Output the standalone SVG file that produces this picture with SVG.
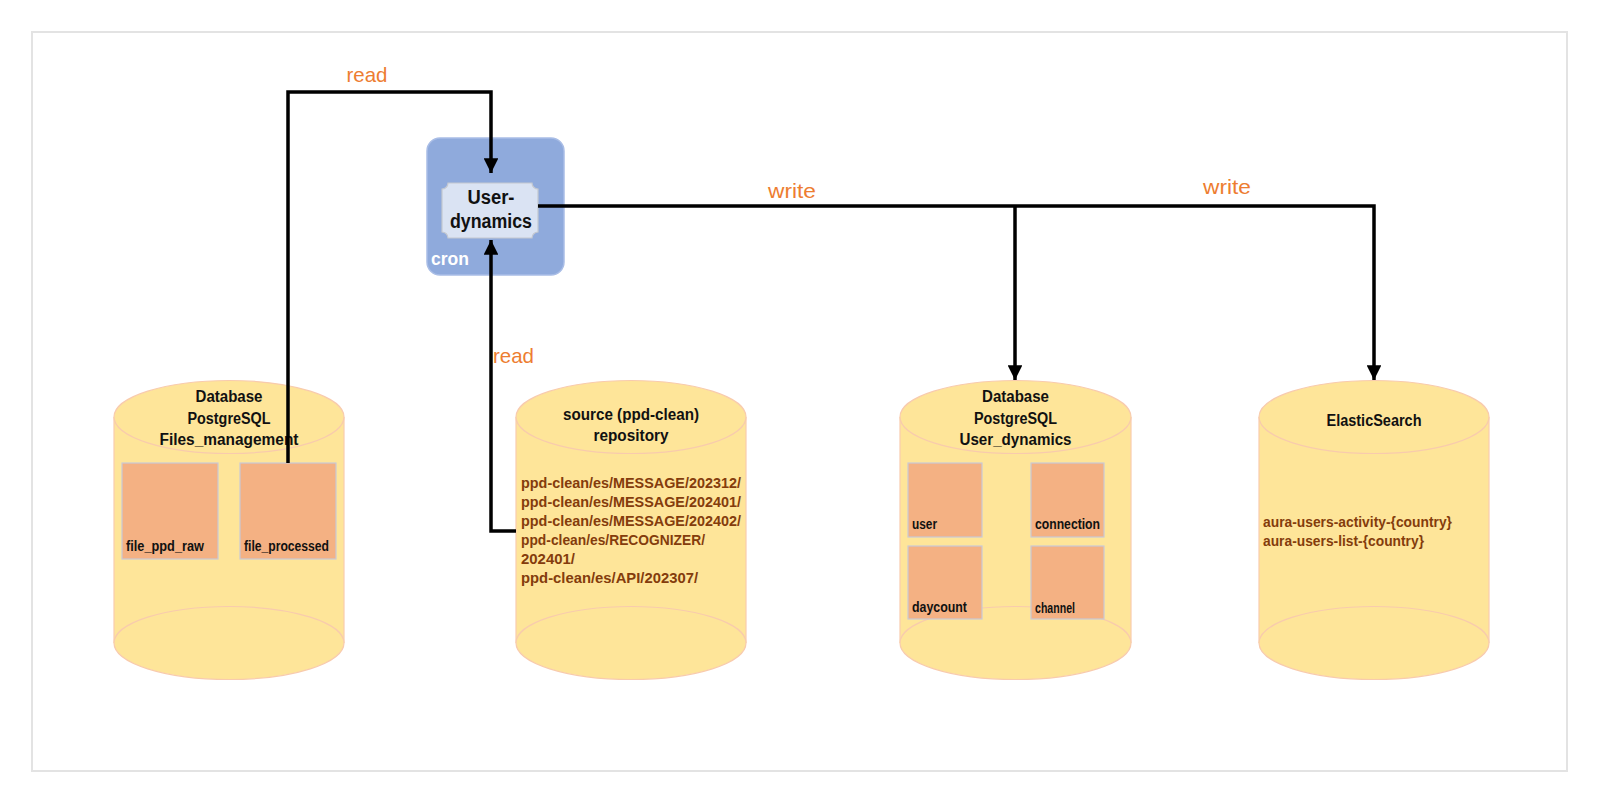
<svg xmlns="http://www.w3.org/2000/svg" width="1600" height="804" viewBox="0 0 1600 804">
<defs>
<style>
.cyl{fill:#fee599;stroke:#f8cbad;stroke-width:1.2}
.cylb{fill:#fee599;stroke:none}
.side{stroke:#f8cbad;stroke-width:1.2}
.tbl{fill:#f4b183;stroke:#c9c9d6;stroke-width:1.2}
.title{font-family:"Liberation Sans",Arial,sans-serif;font-weight:bold;font-size:16px;fill:#111;text-anchor:middle}
.tlabel{font-family:"Liberation Sans",Arial,sans-serif;font-weight:bold;font-size:14px;fill:#111}
.brown{font-family:"Liberation Sans",Arial,sans-serif;font-weight:bold;font-size:15.5px;fill:#843c0c}
.elabel{font-family:"Liberation Sans",Arial,sans-serif;font-size:21px;fill:#ed7d31}
.edge{fill:none;stroke:#000;stroke-width:3.5;stroke-linejoin:miter}
</style>
<marker id="arr" viewBox="0 0 10 10" refX="10" refY="5" markerWidth="4.2" markerHeight="4.2" orient="auto" markerUnits="strokeWidth">
<path d="M0,0 L10,5 L0,10 Z" fill="#000"/>
</marker>
</defs>
<rect x="0" y="0" width="1600" height="804" fill="#fff"/>
<rect x="32" y="32" width="1535" height="739" fill="#fff" stroke="#e3e3e3" stroke-width="2"/>

<g id="cron">
<rect x="427" y="138" width="137" height="137" rx="13" ry="13" fill="#8faadc" stroke="#a9bde6" stroke-width="1.5"/>
<path d="M448,183 H532 A6,6 0 0 0 538,189 V232 A6,6 0 0 0 532,238 H448 A6,6 0 0 0 442,232 V189 A6,6 0 0 0 448,183 Z" fill="#dae3f3" stroke="#c4c8d0" stroke-width="1.2"/>
<text x="491" y="204" font-family="Liberation Sans,Arial,sans-serif" font-weight="bold" font-size="20" fill="#111" text-anchor="middle" textLength="47" lengthAdjust="spacingAndGlyphs">User-</text>
<text x="491" y="228" font-family="Liberation Sans,Arial,sans-serif" font-weight="bold" font-size="20" fill="#111" text-anchor="middle" textLength="82" lengthAdjust="spacingAndGlyphs">dynamics</text>
<text x="431" y="265" font-family="Liberation Sans,Arial,sans-serif" font-weight="bold" font-size="19" fill="#fff" textLength="38" lengthAdjust="spacingAndGlyphs">cron</text>
</g>

<g id="db-files">
<path class="cylb" d="M114,417 V643 H344 V417 Z"/>
<line class="side" x1="114" y1="417" x2="114" y2="643"/>
<line class="side" x1="344" y1="417" x2="344" y2="643"/>
<ellipse class="cyl" cx="229" cy="643" rx="115" ry="36.5"/>
<ellipse class="cyl" cx="229" cy="417" rx="115" ry="36.5"/>
<text class="title" x="229" y="402" textLength="67" lengthAdjust="spacingAndGlyphs">Database</text>
<text class="title" x="229" y="424" textLength="83" lengthAdjust="spacingAndGlyphs">PostgreSQL</text>
<text class="title" x="229" y="445" textLength="139" lengthAdjust="spacingAndGlyphs">Files_management</text>
<rect class="tbl" x="122" y="463" width="96" height="96"/>
<text class="tlabel" x="126" y="551" textLength="78" lengthAdjust="spacingAndGlyphs">file_ppd_raw</text>
<rect class="tbl" x="240" y="463" width="96" height="96"/>
<text class="tlabel" x="244" y="551" textLength="85" lengthAdjust="spacingAndGlyphs">file_processed</text>
</g>

<g id="db-source">
<path class="cylb" d="M516,417 V643 H746 V417 Z"/>
<line class="side" x1="516" y1="417" x2="516" y2="643"/>
<line class="side" x1="746" y1="417" x2="746" y2="643"/>
<ellipse class="cyl" cx="631" cy="643" rx="115" ry="36.5"/>
<ellipse class="cyl" cx="631" cy="417" rx="115" ry="36.5"/>
<text class="title" x="631" y="420" textLength="136" lengthAdjust="spacingAndGlyphs">source (ppd-clean)</text>
<text class="title" x="631" y="441" textLength="75" lengthAdjust="spacingAndGlyphs">repository</text>
<text class="brown" x="521" y="488" textLength="220" lengthAdjust="spacingAndGlyphs">ppd-clean/es/MESSAGE/202312/</text>
<text class="brown" x="521" y="507" textLength="220" lengthAdjust="spacingAndGlyphs">ppd-clean/es/MESSAGE/202401/</text>
<text class="brown" x="521" y="526" textLength="220" lengthAdjust="spacingAndGlyphs">ppd-clean/es/MESSAGE/202402/</text>
<text class="brown" x="521" y="545" textLength="184" lengthAdjust="spacingAndGlyphs">ppd-clean/es/RECOGNIZER/</text>
<text class="brown" x="521" y="564" textLength="54" lengthAdjust="spacingAndGlyphs">202401/</text>
<text class="brown" x="521" y="583" textLength="177" lengthAdjust="spacingAndGlyphs">ppd-clean/es/API/202307/</text>
</g>

<g id="db-userdyn">
<path class="cylb" d="M900,417 V643 H1131 V417 Z"/>
<line class="side" x1="900" y1="417" x2="900" y2="643"/>
<line class="side" x1="1131" y1="417" x2="1131" y2="643"/>
<ellipse class="cyl" cx="1015.5" cy="643" rx="115.5" ry="36.5"/>
<ellipse class="cyl" cx="1015.5" cy="417" rx="115.5" ry="36.5"/>
<text class="title" x="1015.5" y="402" textLength="67" lengthAdjust="spacingAndGlyphs">Database</text>
<text class="title" x="1015.5" y="424" textLength="83" lengthAdjust="spacingAndGlyphs">PostgreSQL</text>
<text class="title" x="1015.5" y="445" textLength="112" lengthAdjust="spacingAndGlyphs">User_dynamics</text>
<rect class="tbl" x="908" y="463" width="74" height="74"/>
<text class="tlabel" x="912" y="529" textLength="25" lengthAdjust="spacingAndGlyphs">user</text>
<rect class="tbl" x="1031" y="463" width="73" height="74"/>
<text class="tlabel" x="1035" y="529" textLength="65" lengthAdjust="spacingAndGlyphs">connection</text>
<rect class="tbl" x="908" y="546" width="74" height="73"/>
<text class="tlabel" x="912" y="612" textLength="55" lengthAdjust="spacingAndGlyphs">daycount</text>
<rect class="tbl" x="1031" y="546" width="73" height="73"/>
<text class="tlabel" x="1035" y="613" font-size="12" textLength="40" lengthAdjust="spacingAndGlyphs">channel</text>
</g>

<g id="es">
<path class="cylb" d="M1259,417 V643 H1489 V417 Z"/>
<line class="side" x1="1259" y1="417" x2="1259" y2="643"/>
<line class="side" x1="1489" y1="417" x2="1489" y2="643"/>
<ellipse class="cyl" cx="1374" cy="643" rx="115" ry="36.5"/>
<ellipse class="cyl" cx="1374" cy="417" rx="115" ry="36.5"/>
<text class="title" x="1374" y="426" textLength="95" lengthAdjust="spacingAndGlyphs">ElasticSearch</text>
<text class="brown" x="1263" y="527" textLength="189" lengthAdjust="spacingAndGlyphs">aura-users-activity-{country}</text>
<text class="brown" x="1263" y="546" textLength="161" lengthAdjust="spacingAndGlyphs">aura-users-list-{country}</text>
</g>

<g id="connectors">
<path class="edge" d="M288,463 V92 H491 V173" marker-end="url(#arr)"/>
<text class="elabel" x="367" y="82" text-anchor="middle" textLength="41" lengthAdjust="spacingAndGlyphs">read</text>
<path class="edge" d="M516,531 H491 V240" marker-end="url(#arr)"/>
<text class="elabel" x="493" y="363" textLength="41" lengthAdjust="spacingAndGlyphs">read</text>
<path class="edge" d="M538,206 H1374 V380" marker-end="url(#arr)"/>
<path class="edge" d="M1015,206 V380" marker-end="url(#arr)"/>
<text class="elabel" x="792" y="198" text-anchor="middle" textLength="48" lengthAdjust="spacingAndGlyphs">write</text>
<text class="elabel" x="1227" y="194" text-anchor="middle" textLength="48" lengthAdjust="spacingAndGlyphs">write</text>
</g>
</svg>
